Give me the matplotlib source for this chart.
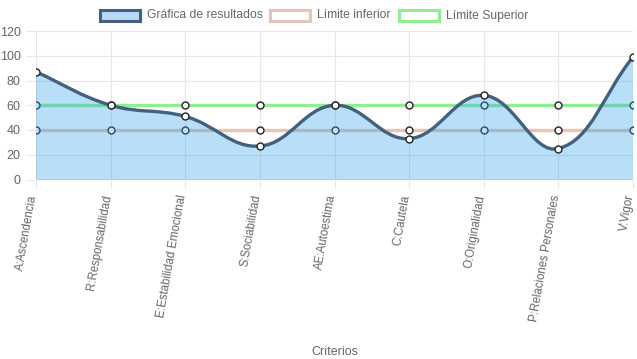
import matplotlib
matplotlib.use("Agg")
import matplotlib.pyplot as plt
from matplotlib.path import Path
from matplotlib.patches import PathPatch, Rectangle
from matplotlib.transforms import ScaledTranslation
import numpy as np

plt.rcParams['font.family'] = ['Liberation Sans', 'DejaVu Sans']

categories = ["A:Ascendencia", "R:Responsabilidad", "E:Estabilidad Emocional",
              "S:Sociabilidad", "AE:Autoestima", "C:Cautela", "O:Originalidad",
              "P:Relaciones Personales", "V:Vigor"]
resultados = [87, 60, 51, 27, 60, 33, 68, 25, 99]
limite_inferior = [40, 40, 40, 40, 40, 40, 40, 40, 40]
limite_superior = [60, 60, 60, 60, 60, 60, 60, 60, 60]
legend_labels = ["Gráfica de resultados", "Límite inferior", "Límite Superior"]
y_ticks = [0, 20, 40, 60, 80, 100, 120]

W, H = 637, 359
fig = plt.figure(figsize=(W / 100, H / 100), dpi=100)
ax = fig.add_axes([36 / W, 1 - 179.5 / H, (633 - 36) / W, (179.5 - 31) / H])

grid_c = "#e6e6e6"
txt_c = "#666666"
line_c = "#43617f"
fill_c = (54 / 255, 162 / 255, 235 / 255, 0.35)
low_c = "#e3c6b7"
up_c = "#90ee90"

x = np.arange(len(categories))
ax.set_xlim(0, len(categories) - 1)
ax.set_ylim(0, 120)
for s in ax.spines.values():
    s.set_visible(False)
ax.set_yticks(y_ticks)
ax.set_xticks(x)
ax.tick_params(axis='x', length=6, color=grid_c, pad=5)
ax.tick_params(axis='y', length=7, color=grid_c, pad=4, labelsize=9, labelcolor=txt_c)
ax.set_xticklabels(categories, rotation=80, ha='right', va='center',
                   rotation_mode='anchor', fontsize=8.3, color=txt_c)
shift = ScaledTranslation(-2.5 / 100, 0, fig.dpi_scale_trans)
for lab in ax.get_xticklabels():
    lab.set_transform(lab.get_transform() + shift)
ax.grid(True, color=grid_c, linewidth=0.8, zorder=0)
ax.set_axisbelow(True)
ax.axhline(0, color="#c8c8c8", linewidth=1.2, zorder=0.5)
ax.set_xlabel("Criterios", fontsize=9, color=txt_c)
ax.xaxis.set_label_coords(0.5, -(346 - 179.5) / (179.5 - 31))

# limit lines
mk = dict(marker='o', markersize=5, markerfacecolor='white', markeredgecolor='#222222', markeredgewidth=1)
ax.plot(x, limite_inferior, color=low_c, linewidth=2.4, zorder=2, **mk)
ax.plot(x, limite_superior, color=up_c, linewidth=2.4, zorder=2.2, **mk)

# Chart.js-like bezier (tension 0.4) in display space
t = 0.4
pts = ax.transData.transform(np.column_stack([x, resultados]))
n = len(pts)
prev_cp = np.zeros_like(pts)
next_cp = np.zeros_like(pts)
for i in range(n):
    p0 = pts[i - 1] if i > 0 else pts[i]
    p1 = pts[i]
    p2 = pts[i + 1] if i < n - 1 else pts[i]
    d01 = np.hypot(*(p1 - p0))
    d12 = np.hypot(*(p2 - p1))
    s01 = d01 / (d01 + d12) if d01 + d12 > 0 else 0
    s12 = d12 / (d01 + d12) if d01 + d12 > 0 else 0
    prev_cp[i] = p1 - t * s01 * (p2 - p0)
    next_cp[i] = p1 + t * s12 * (p2 - p0)
verts = [pts[0]]
codes = [Path.MOVETO]
for i in range(n - 1):
    verts += [next_cp[i], prev_cp[i + 1], pts[i + 1]]
    codes += [Path.CURVE4] * 3
inv = ax.transData.inverted()
verts_d = inv.transform(np.array(verts))
curve = Path(verts_d, codes)
fill_verts = np.vstack([verts_d, [[x[-1], 0], [x[0], 0], [x[0], 0]]])
fill_codes = codes + [Path.LINETO, Path.LINETO, Path.CLOSEPOLY]
ax.add_patch(PathPatch(Path(fill_verts, fill_codes), facecolor=fill_c, edgecolor='none', zorder=3))
ax.add_patch(PathPatch(curve, facecolor='none', edgecolor=line_c, linewidth=2.4, zorder=4,
                       capstyle='round', joinstyle='round'))
ax.plot(x, resultados, linestyle='none', zorder=5, **mk)

# legend (manual, Chart.js style)
def fx(px):
    return px / W

def fy(py):
    return 1 - py / H

boxes = [(100, (185 / 255, 218 / 255, 246 / 255), line_c),
         (270, 'white', low_c),
         (399, 'white', up_c)]
text_x = [147, 317, 446]
for (bx, fc, ec), tx, lab in zip(boxes, text_x, legend_labels):
    fig.patches.append(Rectangle((fx(bx), fy(21)), 40 / W, 11 / H, transform=fig.transFigure,
                                 facecolor=fc, edgecolor=ec, linewidth=2.2))
    fig.text(fx(tx), fy(15.5), lab, fontsize=8.7, color=txt_c, va='center', ha='left')

fig.savefig("out.png", dpi=100)
